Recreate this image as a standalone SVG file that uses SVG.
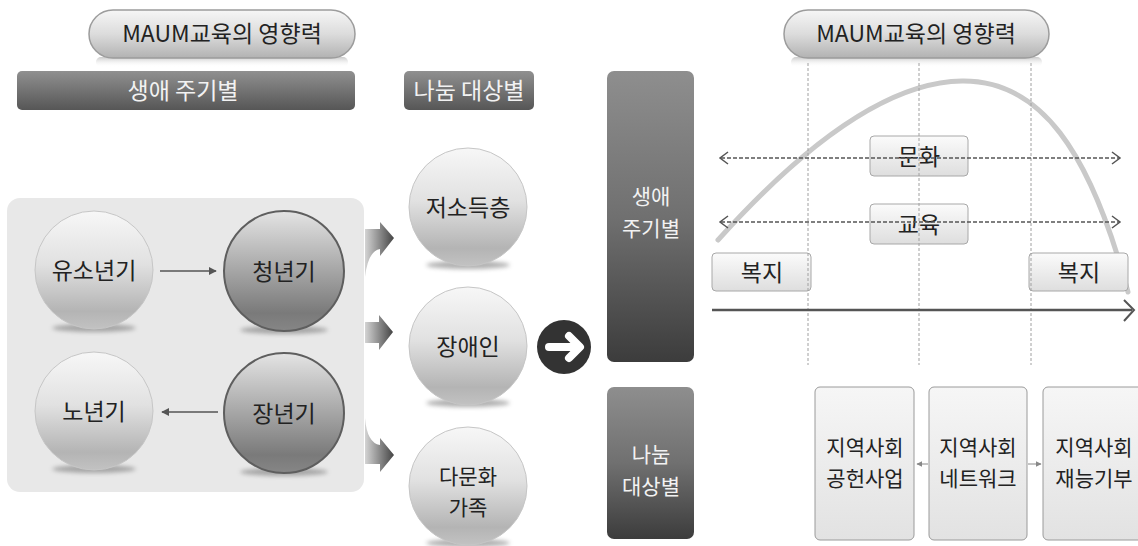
<svg xmlns="http://www.w3.org/2000/svg" width="1138" height="546" viewBox="0 0 1138 546">
<defs>
<linearGradient id="pill" x1="0" y1="0" x2="0" y2="1">
<stop offset="0" stop-color="#f6f6f6"/><stop offset="0.5" stop-color="#dcdcdc"/><stop offset="1" stop-color="#b2b2b2"/>
</linearGradient>
<linearGradient id="refl" x1="0" y1="0" x2="0" y2="1">
<stop offset="0" stop-color="#c4c4c4" stop-opacity="0.9"/><stop offset="1" stop-color="#ffffff" stop-opacity="0"/>
</linearGradient>
<linearGradient id="barH" x1="0" y1="0" x2="0" y2="1">
<stop offset="0" stop-color="#909090"/><stop offset="1" stop-color="#565656"/>
</linearGradient>
<linearGradient id="barV" x1="0" y1="0" x2="0" y2="1">
<stop offset="0" stop-color="#8e8e8e"/><stop offset="0.5" stop-color="#707070"/><stop offset="1" stop-color="#3c3c3c"/>
</linearGradient>
<linearGradient id="light" x1="0" y1="0" x2="0" y2="1">
<stop offset="0" stop-color="#f7f7f7"/><stop offset="0.45" stop-color="#e1e1e1"/><stop offset="0.85" stop-color="#b4b4b4"/><stop offset="1" stop-color="#c2c2c2"/>
</linearGradient>
<linearGradient id="dark" x1="0" y1="0" x2="0" y2="1">
<stop offset="0" stop-color="#e4e4e4"/><stop offset="0.4" stop-color="#b2b2b2"/><stop offset="0.85" stop-color="#7a7a7a"/><stop offset="1" stop-color="#868686"/>
</linearGradient>
<linearGradient id="fat" x1="0" y1="0" x2="1" y2="0">
<stop offset="0" stop-color="#d4d4d4"/><stop offset="1" stop-color="#444444"/>
</linearGradient>
<linearGradient id="box" x1="0" y1="0" x2="0" y2="1">
<stop offset="0" stop-color="#fbfbfb"/><stop offset="1" stop-color="#dedede"/>
</linearGradient>
<linearGradient id="tall" x1="0" y1="0" x2="0" y2="1">
<stop offset="0" stop-color="#f6f6f6"/><stop offset="1" stop-color="#e2e2e2"/>
</linearGradient>
<filter id="blur" x="-20%" y="-100%" width="140%" height="300%"><feGaussianBlur stdDeviation="2"/></filter>
<marker id="ah" viewBox="0 0 10 10" refX="9" refY="5" markerWidth="8" markerHeight="8" markerUnits="userSpaceOnUse" orient="auto-start-reverse">
<path d="M0,0 L10,5 L0,10 Z" fill="#555"/>
</marker>
<marker id="sa" viewBox="0 0 10 10" refX="9" refY="5" markerWidth="6" markerHeight="6" markerUnits="userSpaceOnUse" orient="auto-start-reverse">
<path d="M0,0 L10,5 L0,10 Z" fill="#888"/>
</marker>
</defs>
<style>
text{font-family:"Noto Sans CJK KR","Noto Sans",sans-serif;text-anchor:middle}
.t{font-size:23px;fill:#222}
.m{font-size:21px;fill:#222}
.w{font-size:23px;fill:#f2f2f2}
.wm{font-size:21px;fill:#f2f2f2}
.p{font-size:23px;fill:#222}
.pill{fill:url(#pill);stroke:#9c9c9c;stroke-width:1.5}
.refl{fill:url(#refl)}
.lc{fill:url(#light);stroke:#c6c6c6;stroke-width:1}
.dc{fill:url(#dark);stroke:#5e5e5e;stroke-width:2}
.sh{fill:#707070;opacity:0.55;filter:url(#blur)}
.bx{fill:url(#box);stroke:#a8a8a8;stroke-width:1}
.tb{fill:url(#tall);stroke:#9a9a9a;stroke-width:1}
.vd{stroke:#a0a0a0;stroke-width:1;stroke-dasharray:3 2;fill:none}
.hd{stroke:#555;stroke-width:1.5;stroke-dasharray:4 2;fill:none}
.chev{stroke:#555;stroke-width:1.5;fill:none}
.fat{fill:url(#fat)}
</style>

<!-- left panel -->
<rect x="7" y="198" width="357" height="294" rx="13" fill="#e8e8e8"/>

<g id="title-left">
<rect class="refl" x="96" y="57" width="252" height="10" rx="5"/>
<rect class="pill" x="89" y="10" width="266" height="48" rx="24"/>
<text class="p" x="222" y="42">MAUM교육의 영향력</text>
</g>
<g id="bar-lifecycle">
<rect x="17" y="71" width="338" height="39" rx="5" fill="url(#barH)"/>
<text class="w" x="183" y="99">생애 주기별</text>
</g>
<g id="bar-target">
<rect x="404" y="71" width="130" height="39" rx="5" fill="url(#barH)"/>
<text class="w" x="469" y="99">나눔 대상별</text>
</g>

<g id="node-youth">
<ellipse class="sh" cx="94" cy="328" rx="42" ry="4"/>
<circle class="lc" cx="94" cy="270" r="59"/>
<text class="t" x="94" y="279">유소년기</text>
</g>
<g id="node-young">
<ellipse class="sh" cx="284" cy="330" rx="44" ry="4"/>
<circle class="dc" cx="284" cy="271" r="60"/>
<text class="t" x="284" y="280">청년기</text>
</g>
<g id="node-old">
<ellipse class="sh" cx="94" cy="469" rx="42" ry="4"/>
<circle class="lc" cx="94" cy="411" r="59"/>
<text class="t" x="94" y="420">노년기</text>
</g>
<g id="node-middle">
<ellipse class="sh" cx="284" cy="472" rx="44" ry="4"/>
<circle class="dc" cx="284" cy="413" r="60"/>
<text class="t" x="284" y="422">장년기</text>
</g>

<g id="node-lowincome">
<ellipse class="sh" cx="468" cy="265" rx="42" ry="4"/>
<circle class="lc" cx="468" cy="207" r="59"/>
<text class="t" x="468" y="216">저소득층</text>
</g>
<g id="node-disabled">
<ellipse class="sh" cx="468" cy="403" rx="42" ry="4"/>
<circle class="lc" cx="468" cy="346" r="59"/>
<text class="t" x="468" y="355">장애인</text>
</g>
<g id="node-multicultural">
<ellipse class="sh" cx="468" cy="543" rx="42" ry="4"/>
<circle class="lc" cx="468" cy="486" r="59"/>
<text class="m" x="468" y="484">다문화</text>
<text class="m" x="468" y="515">가족</text>
</g>

<g id="icon-next">
<circle cx="564" cy="347" r="27" fill="#333"/>
<path d="M549,347 L578,347" stroke="#fff" stroke-width="8" stroke-linecap="round"/>
<path d="M569,336 L580,347 L569,358" stroke="#fff" stroke-width="8" stroke-linecap="round" stroke-linejoin="round" fill="none"/>
</g>

<!-- right side -->
<g id="title-right">
<rect class="refl" x="791" y="57" width="251" height="10" rx="5"/>
<rect class="pill" x="784" y="10" width="265" height="48" rx="24"/>
<text class="p" x="916" y="42">MAUM교육의 영향력</text>
</g>
<g id="vbar-lifecycle">
<rect x="607" y="71" width="87" height="291" rx="7" fill="url(#barV)"/>
<text class="wm" x="651" y="204">생애</text>
<text class="wm" x="651" y="236">주기별</text>
</g>
<g id="vbar-target">
<rect x="607" y="387" width="87" height="152" rx="7" fill="url(#barV)"/>
<text class="wm" x="651" y="462">나눔</text>
<text class="wm" x="651" y="494">대상별</text>
</g>

<path id="curve" d="M718,240 C790,160 880,82 962,81 C1040,80 1090,150 1128,292" fill="none" stroke="#c9c9c9" stroke-width="5" stroke-linecap="round"/>

<g id="node-culture">
<rect class="bx" x="870" y="136" width="98" height="40" rx="4"/>
<text class="t" x="919" y="165">문화</text>
</g>
<g id="node-education">
<rect class="bx" x="870" y="204" width="98" height="40" rx="4"/>
<text class="t" x="919" y="233">교육</text>
</g>
<g id="node-welfare-left">
<rect class="bx" x="712" y="253" width="99" height="38" rx="4"/>
<text class="t" x="762" y="281">복지</text>
</g>
<g id="node-welfare-right">
<rect class="bx" x="1029" y="253" width="99" height="38" rx="4"/>
<text class="t" x="1079" y="281">복지</text>
</g>

<g id="node-contribution">
<rect class="tb" x="815" y="387" width="99" height="153" rx="5"/>
<text class="m" x="865" y="455">지역사회</text>
<text class="m" x="865" y="486">공헌사업</text>
</g>
<g id="node-network">
<rect class="tb" x="929" y="387" width="98" height="153" rx="5"/>
<text class="m" x="978" y="455">지역사회</text>
<text class="m" x="978" y="486">네트워크</text>
</g>
<g id="node-talent">
<rect class="tb" x="1043" y="387" width="102" height="153" rx="5"/>
<text class="m" x="1094" y="455">지역사회</text>
<text class="m" x="1094" y="486">재능기부</text>
</g>

<g id="connectors">
<line x1="160" y1="271" x2="216" y2="271" stroke="#555" stroke-width="1.5" marker-end="url(#ah)"/>
<line x1="218" y1="412" x2="162" y2="412" stroke="#555" stroke-width="1.5" marker-end="url(#ah)"/>
<path class="fat" d="M365,229 L380,229 L380,222 L394,238 L380,256 L380,249 Q368,251 365,277 Z"/>
<path class="fat" d="M365,322 L379,322 L379,315 L393,332 L379,350 L379,343 L365,343 Z"/>
<path class="fat" d="M365,418 Q367,443 380,445 L380,438 L394,455 L380,472 L380,464 L365,464 Z"/>
<g id="guides">
<line class="vd" x1="808" y1="63" x2="808" y2="365"/>
<line class="vd" x1="919" y1="63" x2="919" y2="365"/>
<line class="vd" x1="1031" y1="63" x2="1031" y2="365"/>
</g>
<line class="hd" x1="721" y1="158" x2="1119" y2="158"/>
<path class="chev" d="M728,152 L720,158 L728,164 M1112,152 L1120,158 L1112,164"/>
<line class="hd" x1="721" y1="222" x2="1119" y2="222"/>
<path class="chev" d="M728,216 L720,222 L728,228 M1112,216 L1120,222 L1112,228"/>
<line x1="712" y1="310" x2="1132" y2="310" stroke="#555" stroke-width="2.5"/>
<path d="M1124,300 L1134,310 L1124,321" stroke="#555" stroke-width="2" fill="none"/>
<line x1="928" y1="464" x2="917" y2="464" stroke="#888" stroke-width="1" marker-end="url(#sa)"/>
<line x1="1028" y1="464" x2="1041" y2="464" stroke="#888" stroke-width="1" marker-end="url(#sa)"/>
</g>
</svg>
